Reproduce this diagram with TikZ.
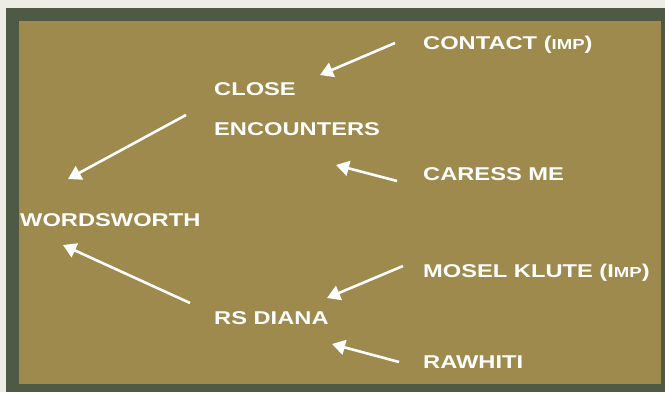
\documentclass[tikz,border=0pt]{standalone}
\usepackage{fontspec}
\setmainfont{Liberation Sans}[FakeStretch=1.28]
\usetikzlibrary{arrows.meta, positioning, calc}

\definecolor{pagebg}{RGB}{236,238,230}
\definecolor{frame}{RGB}{78,90,68}
\definecolor{olive}{RGB}{157,138,76}

\newcommand{\smallcap}[1]{{\fontsize{14.5}{16}\selectfont #1}}

\begin{document}
\begin{tikzpicture}[
  x=1pt, y=-1pt,
  title/.style = {
    text=white,
    font=\fontsize{18.5}{40}\selectfont\bfseries,
    inner sep=0pt,
    anchor=base west,
    align=left
  },
  arrow/.style = {
    draw=white,
    line width=2.6pt,
    -{Triangle[length=13pt,width=15pt]}
  }
]

% ======================================================
% BACKGROUND AND FRAME
% ======================================================

\useasboundingbox (0,0) rectangle (665,392);
\fill[pagebg] (0,0) rectangle (665,392);
\fill[frame] (6,8) rectangle (665,392);
\fill[olive] (19,21) rectangle (661,384);

% ======================================================
% TITLES
% ======================================================

\node[title] (contact) at (423,49) {CONTACT (\smallcap{IMP})};
\node[title] (close)   at (214,135) {CLOSE\\ENCOUNTERS};
\node[title] (caress)  at (423,180) {CARESS ME};
\node[title] (words)   at (20,226) {WORDSWORTH};
\node[title] (mosel)   at (423,277) {MOSEL KLUTE (I\smallcap{MP})};
\node[title] (diana)   at (214,324) {RS DIANA};
\node[title] (rawhiti) at (423,368) {RAWHITI};

% arrow ends
\coordinate (contact_out) at (395,43);
\coordinate (close_in)    at (320,75);
\coordinate (close_out)   at (186,115);
\coordinate (words_in)    at (68,179);
\coordinate (caress_out)  at (397,181);
\coordinate (close_in2)   at (336,165);
\coordinate (diana_out)   at (190,303);
\coordinate (words_in2)   at (63,245);
\coordinate (mosel_out)   at (403,266);
\coordinate (diana_in)    at (327,298);
\coordinate (rawhiti_out) at (399,362);
\coordinate (diana_in2)   at (332,344);

% ======================================================
% ARROWS
% ======================================================

\draw[arrow] (contact_out) -- (close_in);
\draw[arrow] (caress_out) -- (close_in2);
\draw[arrow] (close_out) -- (words_in);
\draw[arrow] (diana_out) -- (words_in2);
\draw[arrow] (mosel_out) -- (diana_in);
\draw[arrow] (rawhiti_out) -- (diana_in2);

\end{tikzpicture}
\end{document}
